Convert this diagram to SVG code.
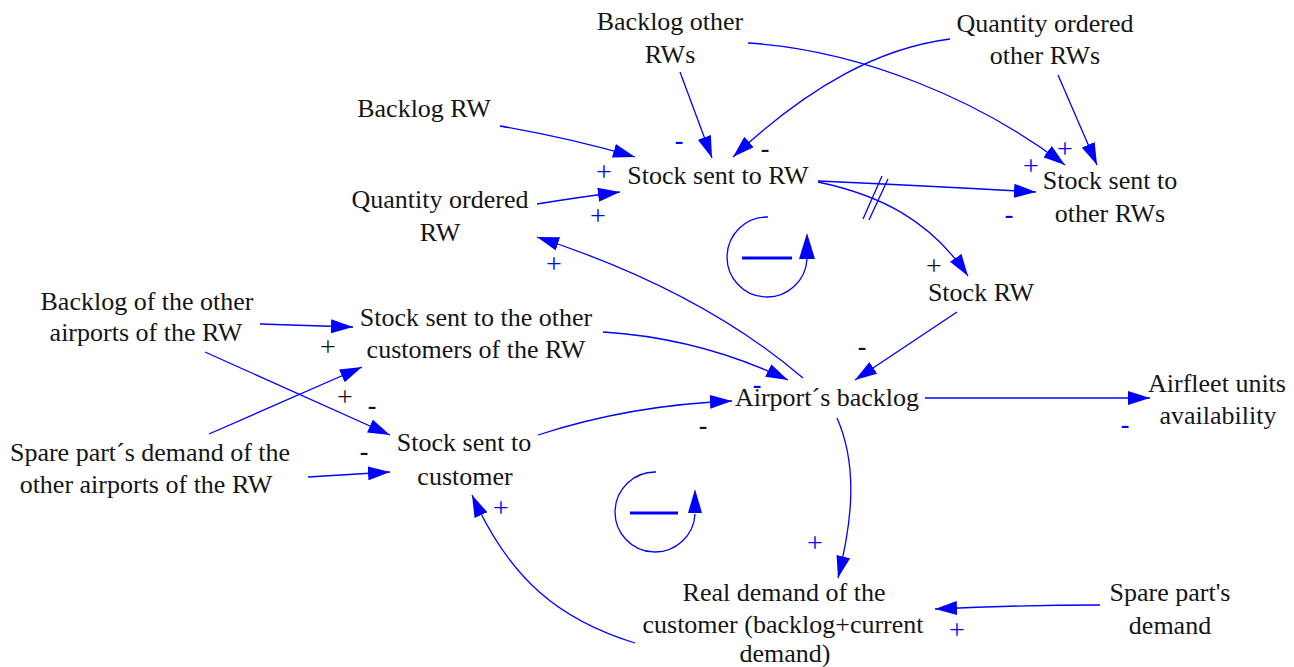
<svg xmlns="http://www.w3.org/2000/svg" width="1294" height="667" viewBox="0 0 1294 667">
  <defs>
    <style>
      text { font-family: "Liberation Serif", "Times New Roman", Times, serif; }
      .lbl { font-size: 26px; fill: #151515; text-anchor: middle; }
      .sg { font-size: 28px; text-anchor: middle; }
      .sgb { fill: #0000ff; }
      .sgk { fill: #151515; }
      .dash { font-weight: bold; font-size: 26px; }
      .link { fill: none; stroke: #0000ff; stroke-width: 1.3; marker-end: url(#ah); }
      .plain { fill: none; stroke: #0000ff; stroke-width: 1.3; }
      .bar { stroke: #0000ff; stroke-width: 3; }
      .head { fill: #0000ff; }
    </style>
    <marker id="ah" markerUnits="userSpaceOnUse" markerWidth="24" markerHeight="14" refX="22" refY="7" orient="auto">
      <path d="M0,0 L22,7 L0,14 z" fill="#0000ff"/>
    </marker>
  </defs>
  <rect width="1294" height="667" fill="#ffffff"/>

  <!-- connectors -->
  <g id="connectors">
    <path class="link" d="M500,126 Q570,138 635,157"/>
    <path class="link" d="M537,204 Q580,197 620,192"/>
    <path class="link" d="M680,72 L712,158"/>
    <path class="link" d="M950,39 C880,48 810,85 733,157"/>
    <path class="link" d="M748,43 C860,50 980,100 1065,165"/>
    <path class="link" d="M1058,75 L1097,165"/>
    <path class="link" d="M818,181 Q930,186 1036,192"/>
    <path class="link" d="M818,182 C880,195 930,220 968,276"/>
    <path class="plain" d="M863,219 L882,176 M869,220 L888,179"/>
    <path class="link" d="M957,312 L855,380"/>
    <path class="link" d="M803,378 Q700,290 537,237"/>
    <path class="link" d="M603,332 Q700,338 788,380"/>
    <path class="link" d="M538,435 Q630,405 732,401"/>
    <path class="link" d="M925,398 L1150,398"/>
    <path class="link" d="M837,418 C860,470 850,530 838,578"/>
    <path class="link" d="M1100,605 Q1020,605 935,609"/>
    <path class="link" d="M635,643 C560,620 510,580 472,495"/>
    <path class="link" d="M260,324 L353,327"/>
    <path class="link" d="M205,352 L390,435"/>
    <path class="link" d="M209,434 L362,367"/>
    <path class="link" d="M308,477 L390,472"/>
  </g>

  <!-- feedback loop markers -->
  <g id="loop-upper">
    <path class="plain" d="M768,217 A40,40 0 1 0 807,259"/>
    <path class="head" d="M807,233 L815,259 L799,259 z"/>
    <line class="bar" x1="742" y1="258" x2="792" y2="258"/>
  </g>
  <g id="loop-lower">
    <path class="plain" d="M656,472 A40,40 0 1 0 695,514"/>
    <path class="head" d="M695,489 L702,513 L688,513 z"/>
    <line class="bar" x1="630" y1="513" x2="678" y2="513"/>
  </g>

  <!-- polarity signs -->
  <g id="signs">
    <text class="sg sgb" x="604" y="181">+</text>
    <text class="sg sgb" x="598" y="225">+</text>
    <text class="sg sgb dash" x="679" y="149">-</text>
    <text class="sg sgk dash" x="765" y="157">-</text>
    <text class="sg sgb" x="1031" y="175">+</text>
    <text class="sg sgb" x="1065" y="158">+</text>
    <text class="sg sgb dash" x="1009" y="223">-</text>
    <text class="sg sgk" x="934" y="275">+</text>
    <text class="sg sgk dash" x="862" y="355">-</text>
    <text class="sg sgb" x="554" y="273">+</text>
    <text class="sg sgb dash" x="757" y="393">-</text>
    <text class="sg sgk dash" x="703" y="434">-</text>
    <text class="sg sgb dash" x="1125" y="433">-</text>
    <text class="sg sgb" x="815" y="552">+</text>
    <text class="sg sgb" x="957" y="639">+</text>
    <text class="sg sgb" x="501" y="517">+</text>
    <text class="sg sgk" x="328" y="356">+</text>
    <text class="sg sgk dash" x="372" y="414">-</text>
    <text class="sg sgk" x="345" y="406">+</text>
    <text class="sg sgk dash" x="364" y="460">-</text>
  </g>

  <!-- variables -->
  <g id="variables">
    <g id="backlog-other-rws"><text class="lbl" x="670" y="30">Backlog other</text><text class="lbl" x="670" y="63">RWs</text></g>
    <g id="qty-ordered-other-rws"><text class="lbl" x="1045" y="32">Quantity ordered</text><text class="lbl" x="1045" y="64">other RWs</text></g>
    <g id="backlog-rw"><text class="lbl" x="424" y="117">Backlog RW</text></g>
    <g id="stock-sent-rw"><text class="lbl" x="718" y="184">Stock sent to RW</text></g>
    <g id="qty-ordered-rw"><text class="lbl" x="440" y="208">Quantity ordered</text><text class="lbl" x="440" y="241">RW</text></g>
    <g id="stock-sent-other-rws"><text class="lbl" x="1110" y="189">Stock sent to</text><text class="lbl" x="1110" y="222">other RWs</text></g>
    <g id="stock-rw"><text class="lbl" x="981" y="301">Stock RW</text></g>
    <g id="backlog-other-airports"><text class="lbl" x="147" y="310">Backlog of the other</text><text class="lbl" x="146" y="341">airports of the RW</text></g>
    <g id="stock-sent-other-customers"><text class="lbl" x="476" y="326">Stock sent to the other</text><text class="lbl" x="476" y="358">customers of the RW</text></g>
    <g id="demand-other-airports"><text class="lbl" x="150" y="461">Spare part´s demand of the</text><text class="lbl" x="146" y="493">other airports of the RW</text></g>
    <g id="stock-sent-customer"><text class="lbl" x="464" y="451">Stock sent to</text><text class="lbl" x="465" y="485">customer</text></g>
    <g id="airport-backlog"><text class="lbl" x="827" y="406">Airport´s backlog</text></g>
    <g id="airfleet-availability"><text class="lbl" x="1217" y="392">Airfleet units</text><text class="lbl" x="1218" y="424">availability</text></g>
    <g id="real-demand"><text class="lbl" x="784" y="601">Real demand of the</text><text class="lbl" x="783" y="633">customer (backlog+current</text><text class="lbl" x="785" y="662">demand)</text></g>
    <g id="spare-part-demand"><text class="lbl" x="1170" y="601">Spare part's</text><text class="lbl" x="1170" y="634">demand</text></g>
  </g>
</svg>
